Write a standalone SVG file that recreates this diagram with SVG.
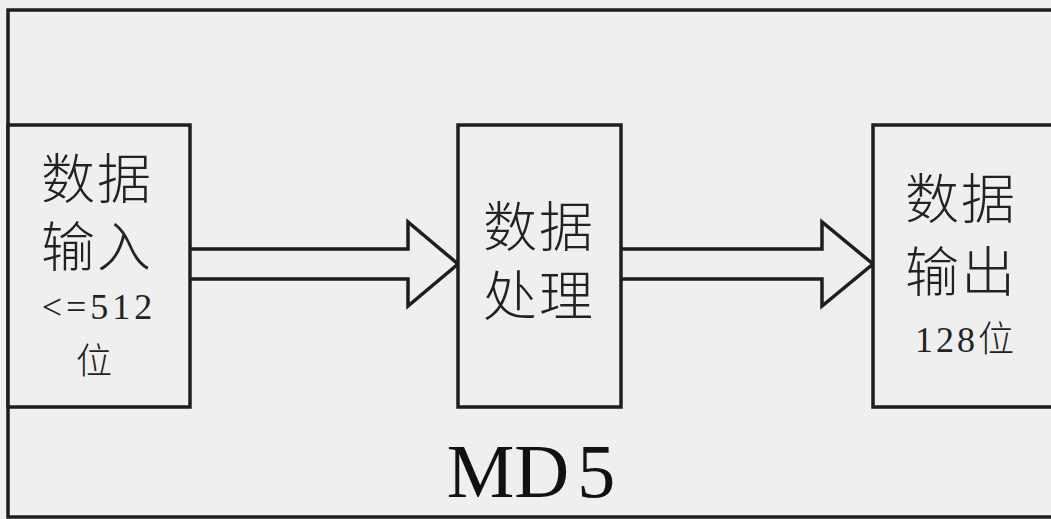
<svg xmlns="http://www.w3.org/2000/svg" width="1051" height="519" viewBox="0 0 1051 519">
<style>
.box{fill:#efefef;stroke:#1e1e1e;stroke-width:3.5}
.arrow{fill:#efefef;stroke:#1e1e1e;stroke-width:3.5;stroke-linejoin:miter}
.cjk{font-family:"Liberation Serif","Noto Sans CJK SC",serif;font-weight:300;fill:#222;text-anchor:middle}
.big{font-size:54px;letter-spacing:2px}
.small{font-size:36px}
</style>
<rect x="0" y="0" width="1051" height="519" fill="#efefef"/>
<g id="outer">
<rect class="box" x="8" y="10" width="1060" height="507"/>
<text x="531" y="497" font-family="Liberation Serif, serif" font-size="76" fill="#111" text-anchor="middle">MD<tspan dx="8">5</tspan></text>
</g>
<g id="connectors">
<path class="arrow" d="M190,249 H408 V222 L458,264 L408,306 V279 H190"/>
<path class="arrow" d="M621,249 H822 V222 L873,264 L822,306 V279 H621"/>
</g>
<g id="input">
<rect class="box" x="8" y="125" width="182" height="282"/>
<text class="cjk big" x="97" y="199">数据</text>
<text class="cjk big" x="97" y="267">输入</text>
<text class="cjk small" x="99" y="319" letter-spacing="4">&lt;=512</text>
<text class="cjk small" x="94" y="374">位</text>
</g>
<g id="process">
<rect class="box" x="458" y="125" width="163" height="282"/>
<text class="cjk big" x="539" y="247">数据</text>
<text class="cjk big" x="539" y="316">处理</text>
</g>
<g id="output">
<rect class="box" x="873" y="125" width="200" height="282"/>
<text class="cjk big" x="961" y="219">数据</text>
<text class="cjk big" x="961" y="292">输出</text>
<text class="cjk small" x="966" y="352" letter-spacing="3">128位</text>
</g>
</svg>
